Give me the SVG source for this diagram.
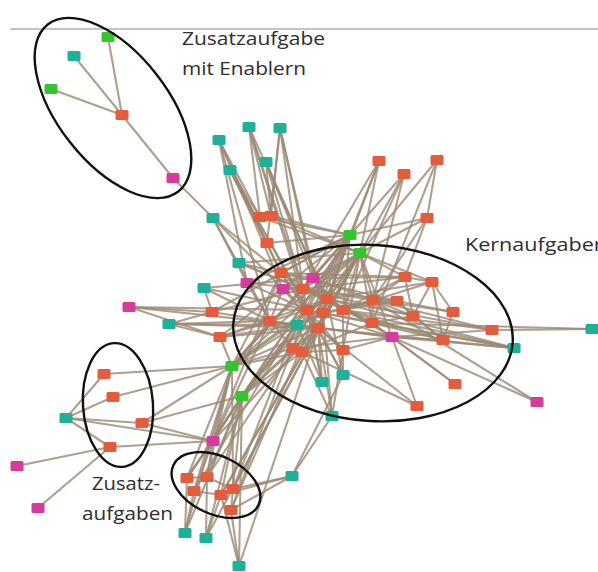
<svg xmlns="http://www.w3.org/2000/svg" xmlns:xlink="http://www.w3.org/1999/xlink" width="598" height="572" viewBox="0 0 598 572">
<style>
.e line{stroke:#9a8873;stroke-width:2.1;stroke-opacity:0.8;stroke-linecap:round}
.r{fill:#e25d3d}.t{fill:#1fb09a}.g{fill:#34c42e}.m{fill:#d63c9e}
.ring{fill:none;stroke:#111;stroke-width:2.4}
.lbl{font-family:"Open Sans","Liberation Sans",sans-serif;font-size:18px;fill:#2e2e2e}
</style>
<defs><rect id="box" x="-6.5" y="-5" width="13" height="10" rx="1.5"/></defs>
<rect width="598" height="572" fill="#fff"/>
<line x1="10" y1="29" x2="598" y2="29" stroke="#c4c4c4" stroke-width="2"/>
<g id="connectors" class="e">
<line x1="122" y1="115" x2="108" y2="37"/><line x1="122" y1="115" x2="74" y2="56"/><line x1="122" y1="115" x2="51" y2="89"/><line x1="122" y1="115" x2="173" y2="178"/><line x1="173" y1="178" x2="213" y2="218"/><line x1="213" y1="218" x2="247" y2="283"/><line x1="213" y1="218" x2="281" y2="273"/><line x1="213" y1="218" x2="283" y2="289"/><line x1="213" y1="218" x2="270" y2="321"/>
<line x1="249" y1="127" x2="260" y2="217"/><line x1="249" y1="127" x2="271" y2="216"/><line x1="249" y1="127" x2="303" y2="289"/><line x1="249" y1="127" x2="327" y2="299"/><line x1="249" y1="127" x2="307" y2="310"/>
<line x1="280" y1="128" x2="271" y2="216"/><line x1="280" y1="128" x2="267" y2="243"/><line x1="280" y1="128" x2="303" y2="289"/><line x1="280" y1="128" x2="323" y2="313"/><line x1="280" y1="128" x2="313" y2="278"/>
<line x1="219" y1="140" x2="260" y2="217"/><line x1="219" y1="140" x2="281" y2="273"/><line x1="219" y1="140" x2="270" y2="321"/><line x1="219" y1="140" x2="283" y2="289"/><line x1="219" y1="140" x2="247" y2="283"/>
<line x1="266" y1="162" x2="271" y2="216"/><line x1="266" y1="162" x2="303" y2="289"/><line x1="266" y1="162" x2="327" y2="299"/><line x1="266" y1="162" x2="313" y2="278"/>
<line x1="230" y1="170" x2="260" y2="217"/><line x1="230" y1="170" x2="267" y2="243"/><line x1="230" y1="170" x2="281" y2="273"/><line x1="230" y1="170" x2="307" y2="310"/><line x1="230" y1="170" x2="318" y2="328"/>
<line x1="379" y1="161" x2="350" y2="235"/><line x1="379" y1="161" x2="360" y2="253"/><line x1="379" y1="161" x2="303" y2="289"/><line x1="379" y1="161" x2="327" y2="299"/>
<line x1="404" y1="174" x2="350" y2="235"/><line x1="404" y1="174" x2="360" y2="253"/><line x1="404" y1="174" x2="343" y2="310"/><line x1="404" y1="174" x2="373" y2="300"/>
<line x1="437" y1="160" x2="427" y2="218"/><line x1="437" y1="160" x2="360" y2="253"/><line x1="437" y1="160" x2="372" y2="323"/>
<line x1="427" y1="218" x2="350" y2="235"/><line x1="427" y1="218" x2="360" y2="253"/><line x1="427" y1="218" x2="405" y2="277"/><line x1="427" y1="218" x2="373" y2="300"/>
<line x1="260" y1="217" x2="350" y2="235"/><line x1="271" y1="216" x2="350" y2="235"/><line x1="267" y1="243" x2="350" y2="235"/><line x1="271" y1="216" x2="360" y2="253"/><line x1="260" y1="217" x2="360" y2="253"/>
<line x1="350" y1="235" x2="281" y2="273"/><line x1="350" y1="235" x2="313" y2="278"/><line x1="350" y1="235" x2="303" y2="289"/><line x1="350" y1="235" x2="327" y2="299"/><line x1="350" y1="235" x2="307" y2="310"/><line x1="350" y1="235" x2="323" y2="313"/><line x1="350" y1="235" x2="343" y2="310"/><line x1="350" y1="235" x2="318" y2="328"/><line x1="350" y1="235" x2="293" y2="348"/><line x1="350" y1="235" x2="232" y2="366"/><line x1="350" y1="235" x2="242" y2="396"/><line x1="350" y1="235" x2="247" y2="283"/><line x1="350" y1="235" x2="220" y2="337"/><line x1="350" y1="235" x2="212" y2="312"/>
<line x1="360" y1="253" x2="313" y2="278"/><line x1="360" y1="253" x2="303" y2="289"/><line x1="360" y1="253" x2="327" y2="299"/><line x1="360" y1="253" x2="373" y2="300"/><line x1="360" y1="253" x2="343" y2="310"/><line x1="360" y1="253" x2="318" y2="328"/><line x1="360" y1="253" x2="372" y2="323"/><line x1="360" y1="253" x2="302" y2="352"/><line x1="360" y1="253" x2="343" y2="350"/><line x1="360" y1="253" x2="232" y2="366"/><line x1="360" y1="253" x2="242" y2="396"/><line x1="360" y1="253" x2="405" y2="277"/><line x1="360" y1="253" x2="432" y2="282"/><line x1="360" y1="253" x2="392" y2="337"/><line x1="360" y1="253" x2="239" y2="263"/><line x1="360" y1="253" x2="270" y2="321"/>
<line x1="281" y1="273" x2="313" y2="278"/><line x1="281" y1="273" x2="303" y2="289"/><line x1="281" y1="273" x2="327" y2="299"/><line x1="281" y1="273" x2="307" y2="310"/><line x1="281" y1="273" x2="318" y2="328"/><line x1="281" y1="273" x2="405" y2="277"/>
<line x1="313" y1="278" x2="303" y2="289"/><line x1="313" y1="278" x2="327" y2="299"/><line x1="313" y1="278" x2="343" y2="310"/><line x1="313" y1="278" x2="373" y2="300"/>
<line x1="283" y1="289" x2="303" y2="289"/><line x1="283" y1="289" x2="307" y2="310"/><line x1="283" y1="289" x2="318" y2="328"/><line x1="283" y1="289" x2="270" y2="321"/>
<line x1="303" y1="289" x2="327" y2="299"/><line x1="303" y1="289" x2="343" y2="310"/><line x1="303" y1="289" x2="373" y2="300"/><line x1="303" y1="289" x2="397" y2="301"/><line x1="303" y1="289" x2="405" y2="277"/>
<line x1="327" y1="299" x2="307" y2="310"/><line x1="327" y1="299" x2="323" y2="313"/><line x1="327" y1="299" x2="343" y2="310"/><line x1="327" y1="299" x2="372" y2="323"/><line x1="327" y1="299" x2="392" y2="337"/>
<line x1="307" y1="310" x2="323" y2="313"/><line x1="307" y1="310" x2="318" y2="328"/><line x1="323" y1="313" x2="343" y2="310"/><line x1="323" y1="313" x2="373" y2="300"/><line x1="343" y1="310" x2="373" y2="300"/><line x1="343" y1="310" x2="397" y2="301"/><line x1="343" y1="310" x2="372" y2="323"/>
<line x1="373" y1="300" x2="397" y2="301"/><line x1="373" y1="300" x2="413" y2="316"/><line x1="397" y1="301" x2="413" y2="316"/><line x1="397" y1="301" x2="453" y2="312"/>
<line x1="405" y1="277" x2="432" y2="282"/><line x1="405" y1="277" x2="373" y2="300"/><line x1="405" y1="277" x2="413" y2="316"/><line x1="432" y1="282" x2="413" y2="316"/><line x1="432" y1="282" x2="453" y2="312"/><line x1="432" y1="282" x2="443" y2="340"/>
<line x1="373" y1="300" x2="372" y2="323"/><line x1="372" y1="323" x2="392" y2="337"/><line x1="372" y1="323" x2="443" y2="340"/><line x1="413" y1="316" x2="443" y2="340"/><line x1="453" y1="312" x2="443" y2="340"/><line x1="392" y1="337" x2="443" y2="340"/><line x1="392" y1="337" x2="492" y2="330"/>
<line x1="318" y1="328" x2="343" y2="350"/><line x1="318" y1="328" x2="293" y2="348"/><line x1="318" y1="328" x2="302" y2="352"/><line x1="323" y1="313" x2="372" y2="323"/><line x1="307" y1="310" x2="343" y2="350"/><line x1="293" y1="348" x2="302" y2="352"/><line x1="302" y1="352" x2="343" y2="350"/>
<line x1="270" y1="321" x2="297" y2="325"/><line x1="297" y1="325" x2="318" y2="328"/><line x1="297" y1="325" x2="323" y2="313"/><line x1="270" y1="321" x2="293" y2="348"/><line x1="270" y1="321" x2="318" y2="328"/>
<line x1="247" y1="283" x2="270" y2="321"/><line x1="247" y1="283" x2="307" y2="310"/><line x1="247" y1="283" x2="303" y2="289"/><line x1="239" y1="263" x2="303" y2="289"/><line x1="239" y1="263" x2="281" y2="273"/><line x1="239" y1="263" x2="327" y2="299"/>
<line x1="204" y1="288" x2="307" y2="310"/><line x1="204" y1="288" x2="270" y2="321"/><line x1="204" y1="288" x2="313" y2="278"/><line x1="204" y1="288" x2="212" y2="312"/><line x1="212" y1="312" x2="270" y2="321"/><line x1="212" y1="312" x2="303" y2="289"/>
<line x1="220" y1="337" x2="307" y2="310"/><line x1="220" y1="337" x2="318" y2="328"/><line x1="220" y1="337" x2="327" y2="299"/><line x1="220" y1="337" x2="297" y2="325"/>
<line x1="405" y1="277" x2="343" y2="310"/><line x1="432" y1="282" x2="343" y2="310"/><line x1="413" y1="316" x2="372" y2="323"/><line x1="453" y1="312" x2="373" y2="300"/><line x1="397" y1="301" x2="443" y2="340"/><line x1="303" y1="289" x2="413" y2="316"/><line x1="327" y1="299" x2="432" y2="282"/><line x1="281" y1="273" x2="397" y2="301"/><line x1="313" y1="278" x2="405" y2="277"/><line x1="307" y1="310" x2="392" y2="337"/><line x1="318" y1="328" x2="392" y2="337"/><line x1="343" y1="310" x2="443" y2="340"/><line x1="297" y1="325" x2="392" y2="337"/><line x1="302" y1="352" x2="372" y2="323"/><line x1="343" y1="350" x2="392" y2="337"/><line x1="293" y1="348" x2="392" y2="337"/>
<line x1="592" y1="329" x2="492" y2="330"/><line x1="592" y1="329" x2="372" y2="323"/><line x1="492" y1="330" x2="343" y2="310"/><line x1="492" y1="330" x2="373" y2="300"/><line x1="492" y1="330" x2="327" y2="299"/>
<line x1="514" y1="348" x2="392" y2="337"/><line x1="514" y1="348" x2="372" y2="323"/><line x1="514" y1="348" x2="343" y2="310"/><line x1="514" y1="348" x2="327" y2="299"/><line x1="514" y1="348" x2="323" y2="313"/><line x1="514" y1="348" x2="318" y2="328"/>
<line x1="537" y1="402" x2="392" y2="337"/><line x1="537" y1="402" x2="373" y2="300"/><line x1="455" y1="384" x2="392" y2="337"/><line x1="455" y1="384" x2="372" y2="323"/><line x1="417" y1="406" x2="392" y2="337"/><line x1="417" y1="406" x2="318" y2="328"/><line x1="417" y1="406" x2="302" y2="352"/>
<line x1="343" y1="375" x2="307" y2="310"/><line x1="343" y1="375" x2="318" y2="328"/><line x1="343" y1="375" x2="343" y2="310"/><line x1="343" y1="375" x2="327" y2="299"/>
<line x1="322" y1="382" x2="318" y2="328"/><line x1="322" y1="382" x2="307" y2="310"/><line x1="322" y1="382" x2="297" y2="325"/><line x1="322" y1="382" x2="303" y2="289"/>
<line x1="332" y1="416" x2="302" y2="352"/><line x1="332" y1="416" x2="343" y2="350"/><line x1="332" y1="416" x2="318" y2="328"/><line x1="332" y1="416" x2="323" y2="313"/><line x1="332" y1="416" x2="292" y2="476"/>
<line x1="129" y1="307" x2="212" y2="312"/><line x1="129" y1="307" x2="220" y2="337"/><line x1="129" y1="307" x2="307" y2="310"/><line x1="129" y1="307" x2="297" y2="325"/>
<line x1="169" y1="324" x2="212" y2="312"/><line x1="169" y1="324" x2="220" y2="337"/><line x1="169" y1="324" x2="270" y2="321"/><line x1="169" y1="324" x2="318" y2="328"/><line x1="169" y1="324" x2="297" y2="325"/>
<line x1="232" y1="366" x2="104" y2="374"/><line x1="232" y1="366" x2="113" y2="397"/><line x1="232" y1="366" x2="142" y2="423"/><line x1="232" y1="366" x2="307" y2="310"/><line x1="232" y1="366" x2="318" y2="328"/><line x1="232" y1="366" x2="327" y2="299"/><line x1="232" y1="366" x2="270" y2="321"/><line x1="232" y1="366" x2="297" y2="325"/><line x1="232" y1="366" x2="302" y2="352"/><line x1="232" y1="366" x2="303" y2="289"/><line x1="232" y1="366" x2="281" y2="273"/><line x1="232" y1="366" x2="293" y2="348"/><line x1="232" y1="366" x2="220" y2="337"/>
<line x1="242" y1="396" x2="142" y2="423"/><line x1="242" y1="396" x2="213" y2="441"/><line x1="242" y1="396" x2="307" y2="310"/><line x1="242" y1="396" x2="318" y2="328"/><line x1="242" y1="396" x2="293" y2="348"/><line x1="242" y1="396" x2="302" y2="352"/><line x1="242" y1="396" x2="327" y2="299"/><line x1="242" y1="396" x2="297" y2="325"/>
<line x1="66" y1="418" x2="104" y2="374"/><line x1="66" y1="418" x2="113" y2="397"/><line x1="66" y1="418" x2="142" y2="423"/><line x1="66" y1="418" x2="110" y2="447"/><line x1="66" y1="418" x2="213" y2="441"/>
<line x1="110" y1="447" x2="213" y2="441"/><line x1="110" y1="447" x2="17" y2="466"/><line x1="110" y1="447" x2="38" y2="508"/><line x1="142" y1="423" x2="213" y2="441"/>
<line x1="213" y1="441" x2="232" y2="366"/><line x1="213" y1="441" x2="242" y2="396"/><line x1="213" y1="441" x2="270" y2="321"/><line x1="213" y1="441" x2="318" y2="328"/><line x1="213" y1="441" x2="281" y2="273"/>
<line x1="187" y1="478" x2="232" y2="366"/><line x1="187" y1="478" x2="242" y2="396"/><line x1="187" y1="478" x2="350" y2="235"/><line x1="207" y1="477" x2="232" y2="366"/><line x1="207" y1="477" x2="360" y2="253"/><line x1="207" y1="477" x2="242" y2="396"/><line x1="194" y1="491" x2="232" y2="366"/><line x1="194" y1="491" x2="350" y2="235"/>
<line x1="221" y1="495" x2="242" y2="396"/><line x1="221" y1="495" x2="360" y2="253"/><line x1="221" y1="495" x2="318" y2="328"/><line x1="233" y1="489" x2="360" y2="253"/><line x1="233" y1="489" x2="232" y2="366"/><line x1="233" y1="489" x2="297" y2="325"/>
<line x1="231" y1="510" x2="242" y2="396"/><line x1="231" y1="510" x2="350" y2="235"/><line x1="231" y1="510" x2="307" y2="310"/>
<line x1="187" y1="478" x2="213" y2="441"/><line x1="207" y1="477" x2="213" y2="441"/><line x1="194" y1="491" x2="213" y2="441"/>
<line x1="187" y1="478" x2="207" y2="477"/><line x1="194" y1="491" x2="221" y2="495"/><line x1="221" y1="495" x2="233" y2="489"/><line x1="207" y1="477" x2="233" y2="489"/>
<line x1="292" y1="476" x2="221" y2="495"/><line x1="292" y1="476" x2="233" y2="489"/><line x1="292" y1="476" x2="231" y2="510"/><line x1="292" y1="476" x2="343" y2="375"/>
<line x1="185" y1="533" x2="187" y2="478"/><line x1="185" y1="533" x2="194" y2="491"/><line x1="185" y1="533" x2="232" y2="366"/><line x1="185" y1="533" x2="242" y2="396"/>
<line x1="206" y1="538" x2="207" y2="477"/><line x1="206" y1="538" x2="221" y2="495"/><line x1="206" y1="538" x2="242" y2="396"/><line x1="206" y1="538" x2="360" y2="253"/>
<line x1="239" y1="566" x2="231" y2="510"/><line x1="239" y1="566" x2="221" y2="495"/><line x1="239" y1="566" x2="242" y2="396"/><line x1="239" y1="566" x2="350" y2="235"/>
</g>
<g id="nodes">
<g id="n1"><use href="#box" x="108" y="37" class="g"/></g>
<g id="n2"><use href="#box" x="74" y="56" class="t"/></g>
<g id="n3"><use href="#box" x="51" y="89" class="g"/></g>
<g id="n4"><use href="#box" x="122" y="115" class="r"/></g>
<g id="n5"><use href="#box" x="173" y="178" class="m"/></g>
<g id="n6"><use href="#box" x="213" y="218" class="t"/></g>
<g id="n7"><use href="#box" x="249" y="127" class="t"/></g>
<g id="n8"><use href="#box" x="280" y="128" class="t"/></g>
<g id="n9"><use href="#box" x="219" y="140" class="t"/></g>
<g id="n10"><use href="#box" x="266" y="162" class="t"/></g>
<g id="n11"><use href="#box" x="230" y="170" class="t"/></g>
<g id="n12"><use href="#box" x="260" y="217" class="r"/></g>
<g id="n13"><use href="#box" x="271" y="216" class="r"/></g>
<g id="n14"><use href="#box" x="267" y="243" class="r"/></g>
<g id="n15"><use href="#box" x="379" y="161" class="r"/></g>
<g id="n16"><use href="#box" x="404" y="174" class="r"/></g>
<g id="n17"><use href="#box" x="437" y="160" class="r"/></g>
<g id="n18"><use href="#box" x="427" y="218" class="r"/></g>
<g id="n19"><use href="#box" x="350" y="235" class="g"/></g>
<g id="n20"><use href="#box" x="360" y="253" class="g"/></g>
<g id="n21"><use href="#box" x="239" y="263" class="t"/></g>
<g id="n22"><use href="#box" x="247" y="283" class="m"/></g>
<g id="n23"><use href="#box" x="281" y="273" class="r"/></g>
<g id="n24"><use href="#box" x="313" y="278" class="m"/></g>
<g id="n25"><use href="#box" x="283" y="289" class="m"/></g>
<g id="n26"><use href="#box" x="303" y="289" class="r"/></g>
<g id="n27"><use href="#box" x="204" y="288" class="t"/></g>
<g id="n28"><use href="#box" x="405" y="277" class="r"/></g>
<g id="n29"><use href="#box" x="432" y="282" class="r"/></g>
<g id="n30"><use href="#box" x="327" y="299" class="r"/></g>
<g id="n31"><use href="#box" x="373" y="300" class="r"/></g>
<g id="n32"><use href="#box" x="397" y="301" class="r"/></g>
<g id="n33"><use href="#box" x="212" y="312" class="r"/></g>
<g id="n34"><use href="#box" x="307" y="310" class="r"/></g>
<g id="n35"><use href="#box" x="323" y="313" class="r"/></g>
<g id="n36"><use href="#box" x="343" y="310" class="r"/></g>
<g id="n37"><use href="#box" x="413" y="316" class="r"/></g>
<g id="n38"><use href="#box" x="453" y="312" class="r"/></g>
<g id="n39"><use href="#box" x="270" y="321" class="r"/></g>
<g id="n40"><use href="#box" x="297" y="325" class="t"/></g>
<g id="n41"><use href="#box" x="318" y="328" class="r"/></g>
<g id="n42"><use href="#box" x="372" y="323" class="r"/></g>
<g id="n43"><use href="#box" x="492" y="330" class="r"/></g>
<g id="n44"><use href="#box" x="592" y="329" class="t"/></g>
<g id="n45"><use href="#box" x="220" y="337" class="r"/></g>
<g id="n46"><use href="#box" x="392" y="337" class="m"/></g>
<g id="n47"><use href="#box" x="443" y="340" class="r"/></g>
<g id="n48"><use href="#box" x="514" y="348" class="t"/></g>
<g id="n49"><use href="#box" x="293" y="348" class="r"/></g>
<g id="n50"><use href="#box" x="302" y="352" class="r"/></g>
<g id="n51"><use href="#box" x="343" y="350" class="r"/></g>
<g id="n52"><use href="#box" x="232" y="366" class="g"/></g>
<g id="n53"><use href="#box" x="343" y="375" class="t"/></g>
<g id="n54"><use href="#box" x="322" y="382" class="t"/></g>
<g id="n55"><use href="#box" x="455" y="384" class="r"/></g>
<g id="n56"><use href="#box" x="242" y="396" class="g"/></g>
<g id="n57"><use href="#box" x="537" y="402" class="m"/></g>
<g id="n58"><use href="#box" x="417" y="406" class="r"/></g>
<g id="n59"><use href="#box" x="332" y="416" class="t"/></g>
<g id="n60"><use href="#box" x="129" y="307" class="m"/></g>
<g id="n61"><use href="#box" x="169" y="324" class="t"/></g>
<g id="n62"><use href="#box" x="104" y="374" class="r"/></g>
<g id="n63"><use href="#box" x="113" y="397" class="r"/></g>
<g id="n64"><use href="#box" x="66" y="418" class="t"/></g>
<g id="n65"><use href="#box" x="142" y="423" class="r"/></g>
<g id="n66"><use href="#box" x="110" y="447" class="r"/></g>
<g id="n67"><use href="#box" x="213" y="441" class="m"/></g>
<g id="n68"><use href="#box" x="17" y="466" class="m"/></g>
<g id="n69"><use href="#box" x="38" y="508" class="m"/></g>
<g id="n70"><use href="#box" x="292" y="476" class="t"/></g>
<g id="n71"><use href="#box" x="187" y="478" class="r"/></g>
<g id="n72"><use href="#box" x="207" y="477" class="r"/></g>
<g id="n73"><use href="#box" x="194" y="491" class="r"/></g>
<g id="n74"><use href="#box" x="221" y="495" class="r"/></g>
<g id="n75"><use href="#box" x="233" y="489" class="r"/></g>
<g id="n76"><use href="#box" x="231" y="510" class="r"/></g>
<g id="n77"><use href="#box" x="185" y="533" class="t"/></g>
<g id="n78"><use href="#box" x="206" y="538" class="t"/></g>
<g id="n79"><use href="#box" x="239" y="566" class="t"/></g>
</g>
<g id="groups">
<ellipse class="ring" cx="113" cy="108" rx="106" ry="55" transform="rotate(52 113 108)"/>
<ellipse class="ring" cx="373" cy="333" rx="140" ry="88" transform="rotate(4 373 333)"/>
<ellipse class="ring" cx="118" cy="405" rx="35" ry="62" transform="rotate(-4 118 405)"/>
<ellipse class="ring" cx="216" cy="485" rx="47" ry="29" transform="rotate(25 216 485)"/>
</g>
<g id="labels">
<text class="lbl" x="182" y="45" textLength="143" lengthAdjust="spacingAndGlyphs">Zusatzaufgabe</text>
<text class="lbl" x="182" y="75" textLength="124" lengthAdjust="spacingAndGlyphs">mit Enablern</text>
<text class="lbl" x="465" y="251" textLength="142" lengthAdjust="spacingAndGlyphs">Kernaufgaben</text>
<text class="lbl" x="92" y="490" textLength="68" lengthAdjust="spacingAndGlyphs">Zusatz-</text>
<text class="lbl" x="82" y="520" textLength="91" lengthAdjust="spacingAndGlyphs">aufgaben</text>
</g>
</svg>
